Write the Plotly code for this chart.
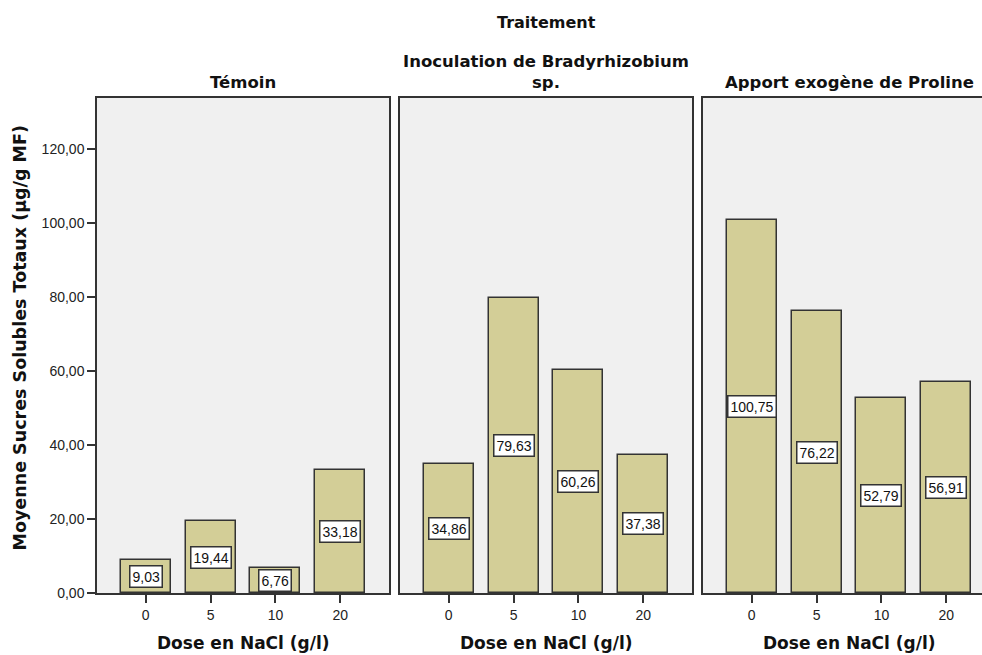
import plotly.graph_objects as go

# ---- data ----
doses = ["0", "5", "10", "20"]
treatments = ["Témoin", "Inoculation de Bradyrhizobium<br>sp.", "Apport exogène de Proline"]
temoin = [9.03, 19.44, 6.76, 33.18]
inoculation = [34.86, 79.63, 60.26, 37.38]
proline = [100.75, 76.22, 52.79, 56.91]
y_tick_vals = [0, 20, 40, 60, 80, 100, 120]
y_tick_text = ["0,00", "20,00", "40,00", "60,00", "80,00", "100,00", "120,00"]

series = [temoin, inoculation, proline]

W, H = 982, 655
L, R, T, B = 97, 0, 98, 62
pw = W - L - R
panels_px = [(97, 389), (400, 692), (703, 982)]
cat_px = 292 / 4.5  # pixels per category

BAR = "#D3CE97"
EDGE = "#333333"
BG = "#F0F0F0"
FONT = "Liberation Sans, Arial, sans-serif"
BOLD = "DejaVu Sans, Verdana, sans-serif"

fig = go.Figure()
xpos = list(range(len(doses)))

for i, vals in enumerate(series):
    ax = "" if i == 0 else str(i + 1)
    fig.add_trace(go.Bar(
        x=xpos, y=vals, width=0.77,
        marker=dict(color=BAR, line=dict(color=EDGE, width=1.5)),
        xaxis="x" + ax, yaxis="y" + ax, showlegend=False, hoverinfo="skip",
    ))
    x0, x1 = panels_px[i]
    dom = [(x0 - L) / pw, (x1 - L) / pw]
    rng_right = -0.75 + (x1 - x0) / cat_px
    fig.update_layout(**{
        "xaxis" + ax: dict(
            domain=dom, range=[-0.75, rng_right],
            tickvals=xpos, ticktext=doses,
            showline=True, linecolor=EDGE, linewidth=1.5, mirror=True,
            ticks="outside", ticklen=8, tickcolor=EDGE, tickwidth=1.5,
            showgrid=False, zeroline=False,
            tickfont=dict(family=FONT, size=14, color="#222"),
            anchor="y" + ax,
        ),
        "yaxis" + ax: dict(
            domain=[0, 1], range=[0, 133.8],
            showline=True, linecolor=EDGE, linewidth=1.5, mirror=(i < 2),
            showgrid=False, zeroline=False,
            tickvals=y_tick_vals if i == 0 else [],
            ticktext=y_tick_text if i == 0 else [],
            ticks="outside" if i == 0 else "", ticklen=8, tickcolor=EDGE, tickwidth=1.5,
            showticklabels=(i == 0),
            tickfont=dict(family=FONT, size=14, color="#222"),
            anchor="x" + ax,
        ),
    })
    # value labels
    for xi, v in zip(xpos, vals):
        fig.add_annotation(
            x=xi, y=v / 2, xref="x" + ax, yref="y" + ax,
            text=f"{v:.2f}".replace(".", ","), showarrow=False,
            bgcolor="white", bordercolor=EDGE, borderwidth=1.5, borderpad=2,
            font=dict(family=FONT, size=14, color="#111"),
        )
    # panel title
    center_px = x0 + 292 / 2
    fig.add_annotation(
        x=(center_px - L) / pw, y=1, xref="paper", yref="paper",
        xanchor="center", yanchor="bottom", yshift=4,
        text=f"<b>{treatments[i]}</b>", showarrow=False,
        font=dict(family=BOLD, size=16.5, color="#111"),
    )
    # x axis title
    fig.add_annotation(
        x=(center_px - L) / pw, y=0, xref="paper", yref="paper",
        xanchor="center", yanchor="top", yshift=-38,
        text="<b>Dose en NaCl (g/l)</b>", showarrow=False,
        font=dict(family=BOLD, size=17, color="#111"),
    )

# overall title
fig.add_annotation(
    x=(panels_px[1][0] + 146 - L) / pw, y=1, xref="paper", yref="paper",
    xanchor="center", yanchor="bottom", yshift=64,
    text="<b>Traitement</b>", showarrow=False,
    font=dict(family=BOLD, size=16, color="#111"),
)
# y title
fig.add_annotation(
    x=0, y=0.5, xref="paper", yref="paper", xshift=-78, yshift=7,
    xanchor="center", yanchor="middle", textangle=-90,
    text="<b>Moyenne Sucres Solubles Totaux (µg/g MF)</b>", showarrow=False,
    font=dict(family=BOLD, size=17.5, color="#111"),
)

fig.update_layout(
    width=W, height=H,
    margin=dict(l=L, r=R, t=T, b=B, autoexpand=False),
    paper_bgcolor="white", plot_bgcolor=BG,
    font=dict(family=FONT),
    bargap=0,
)

fig.write_html(
    "out.html",
    config={"displayModeBar": False},
    post_script="document.body.style.margin='0';document.body.style.overflow='hidden';",
)
